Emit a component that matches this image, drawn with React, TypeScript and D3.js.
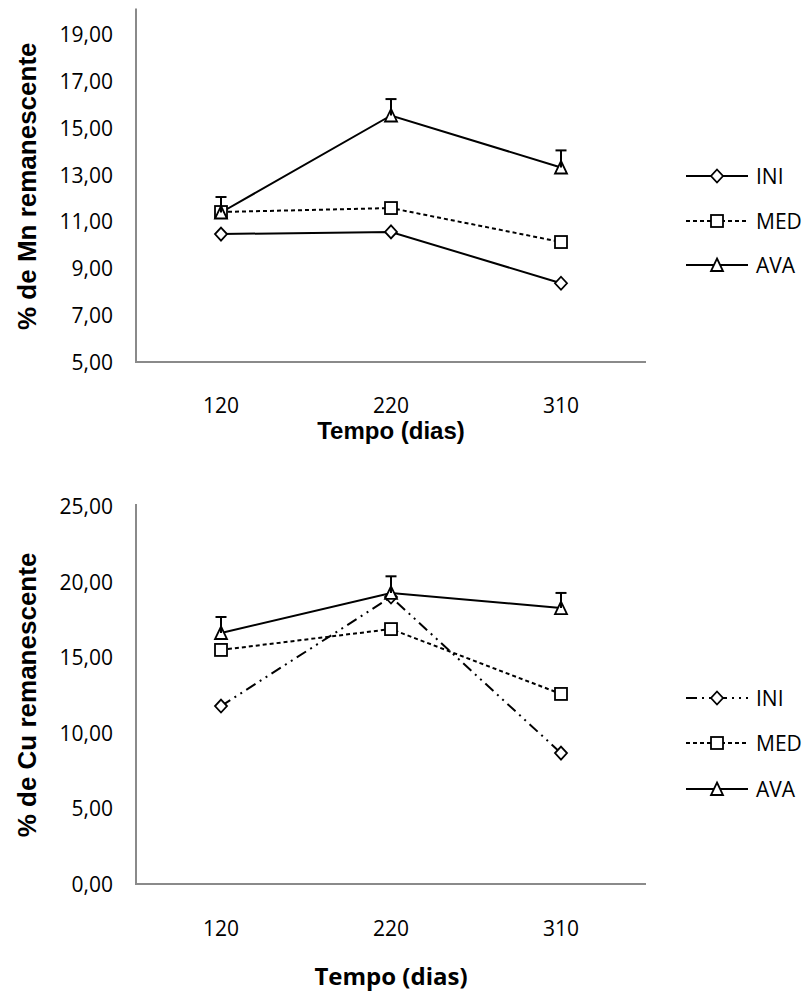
import React from "react";
import * as d3 from "d3";

const categories = ["120", "220", "310"];
const seriesNames = ["INI", "MED", "AVA"];

// Mn chart
const mnIni = [10.46, 10.55, 8.36];
const mnMed = [11.4, 11.57, 10.12];
const mnAva = [11.38, 15.52, 13.3];
const mnAvaErr = [0.66, 0.7, 0.73];
const mnTicks = [5, 7, 9, 11, 13, 15, 17, 19];

// Cu chart
const cuIni = [11.77, 18.98, 8.66];
const cuMed = [15.48, 16.86, 12.57];
const cuAva = [16.6, 19.25, 18.25];
const cuAvaErr = [1.06, 1.1, 1.0];
const cuTicks = [0, 5, 10, 15, 20, 25];

const fmt = (v: number) => v.toFixed(2).replace(".", ",");

const TICK_FONT = "'Open Sans', sans-serif";
const TITLE_FONT = "'Liberation Sans', Arial, sans-serif";

type Style = { dash: string; marker: "diamond" | "square" | "triangle" };

function Marker({ kind, x, y }: { kind: string; x: number; y: number }) {
  const common = { fill: "#fff", stroke: "#000", strokeWidth: 1.8 };
  if (kind === "diamond") {
    return <path d={`M${x},${y - 6.5}L${x + 6},${y}L${x},${y + 6.5}L${x - 6},${y}Z`} {...common} />;
  }
  if (kind === "square") {
    return <rect x={x - 6} y={y - 6} width={12} height={12} {...common} />;
  }
  return <path d={`M${x},${y - 6.5}L${x + 6},${y + 6}L${x - 6},${y + 6}Z`} {...common} />;
}

function Chart(props: {
  top: number;
  bottom: number;
  domain: [number, number];
  ticks: number[];
  series: number[][];
  err: number[];
  styles: Style[];
  yTitle: string;
  xLabelY: number;
  xTitleY: number;
  xTitleFont: string;
  legendYs: number[];
}) {
  const { top, bottom, domain, ticks, series, err, styles, yTitle, xLabelY, xTitleY, xTitleFont, legendYs } = props;
  const x = d3.scaleBand<string>().domain(categories).range([136, 646]).padding(0);
  const y = d3.scaleLinear().domain(domain).range([bottom, top]);
  const cx = (c: string) => (x(c) as number) + x.bandwidth() / 2;
  const line = d3
    .line<number>()
    .x((_, i) => cx(categories[i]))
    .y((d) => y(d));
  const midY = (top + bottom) / 2;
  return (
    <g>
      {/* axes */}
      <line x1={136} x2={136} y1={top - 2} y2={bottom} stroke="#8a8a8a" strokeWidth={2} />
      <line x1={135} x2={646} y1={bottom} y2={bottom} stroke="#8a8a8a" strokeWidth={2} />
      {ticks.map((t) => (
        <text key={t} x={113} y={y(t)} textAnchor="end" dominantBaseline="central" fontFamily={TICK_FONT} fontSize={21} fill="#000">
          {fmt(t)}
        </text>
      ))}
      {categories.map((c) => (
        <text key={c} x={cx(c)} y={xLabelY} textAnchor="middle" dominantBaseline="central" fontFamily={TICK_FONT} fontSize={21} fill="#000">
          {c}
        </text>
      ))}
      <text
        transform={`translate(27,${midY}) rotate(-90)`}
        textAnchor="middle"
        dominantBaseline="central"
        fontFamily={TITLE_FONT}
        fontWeight="bold"
        fontSize={26}
        fill="#000"
      >
        {yTitle}
      </text>
      <text x={391} y={xTitleY} textAnchor="middle" dominantBaseline="central" fontFamily={xTitleFont} fontWeight="bold" fontSize={24} fill="#000">
        Tempo (dias)
      </text>
      {/* lines */}
      {series.map((s, k) => (
        <path key={k} d={line(s) || ""} fill="none" stroke="#000" strokeWidth={2} strokeDasharray={styles[k].dash} />
      ))}
      {/* markers */}
      {series.map((s, k) =>
        s.map((v, i) => <Marker key={`${k}-${i}`} kind={styles[k].marker} x={cx(categories[i])} y={y(v)} />)
      )}
      {/* error bars on AVA */}
      {series[2].map((v, i) => {
        const px = cx(categories[i]);
        const y0 = y(v);
        const y1 = y(v + err[i]);
        return (
          <g key={`e${i}`} stroke="#000" strokeWidth={2}>
            <line x1={px} x2={px} y1={y0} y2={y1} />
            <line x1={px - 5.5} x2={px + 5.5} y1={y1} y2={y1} />
          </g>
        );
      })}
      {/* legend */}
      {seriesNames.map((n, k) => (
        <g key={n}>
          <line x1={686} x2={748} y1={legendYs[k]} y2={legendYs[k]} stroke="#000" strokeWidth={2} strokeDasharray={styles[k].dash} />
          <Marker kind={styles[k].marker} x={717} y={legendYs[k]} />
          <text x={756} y={legendYs[k]} dominantBaseline="central" fontFamily={TICK_FONT} fontSize={21} fill="#000">
            {n}
          </text>
        </g>
      ))}
    </g>
  );
}

export default function App() {
  const topStyles: Style[] = [
    { dash: "", marker: "diamond" },
    { dash: "4,3", marker: "square" },
    { dash: "", marker: "triangle" },
  ];
  const botStyles: Style[] = [
    { dash: "11,5,2,5,2,5", marker: "diamond" },
    { dash: "4,3", marker: "square" },
    { dash: "", marker: "triangle" },
  ];
  return (
    <svg width={805} height={996} style={{ position: "absolute", left: 0, top: 0, background: "#fff" }}>
      <rect width={805} height={996} fill="#fff" />
      <Chart
        top={10.5}
        bottom={362}
        domain={[5, 20]}
        ticks={mnTicks}
        series={[mnIni, mnMed, mnAva]}
        err={mnAvaErr}
        styles={topStyles}
        yTitle="% de Mn remanescente"
        xLabelY={405}
        xTitleY={430}
        xTitleFont={TITLE_FONT}
        legendYs={[176, 221, 265]}
      />
      <Chart
        top={506}
        bottom={884}
        domain={[0, 25]}
        ticks={cuTicks}
        series={[cuIni, cuMed, cuAva]}
        err={cuAvaErr}
        styles={botStyles}
        yTitle="% de Cu remanescente"
        xLabelY={928}
        xTitleY={975}
        xTitleFont={TICK_FONT}
        legendYs={[698, 743, 789]}
      />
    </svg>
  );
}
